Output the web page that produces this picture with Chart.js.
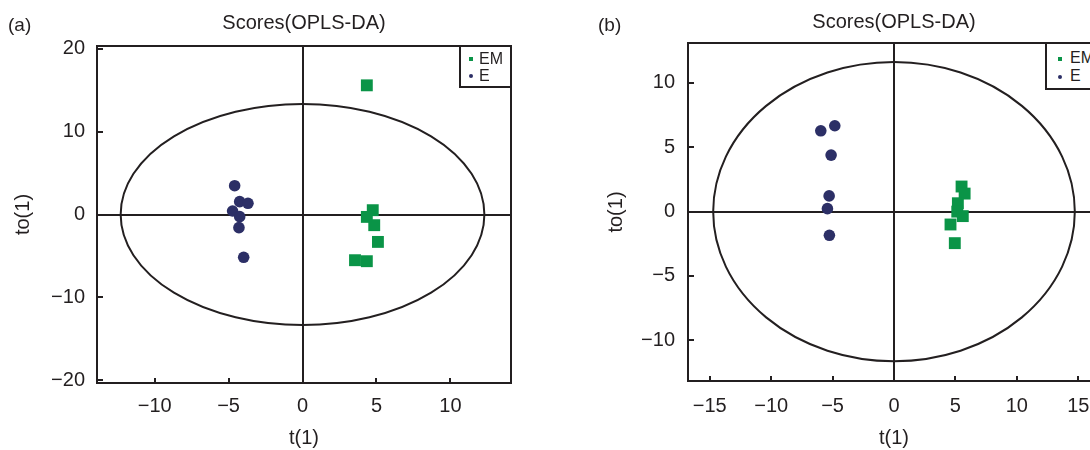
<!DOCTYPE html>
<html>
<head>
<meta charset="utf-8">
<script src="https://cdn.jsdelivr.net/npm/chart.js@4.4.1/dist/chart.umd.min.js"></script>
<style>
  html, body { margin: 0; padding: 0; background: #fff; width: 1090px; height: 450px; overflow: hidden; }
  body { position: relative; font-family: "Liberation Sans", Arial, sans-serif; color: #231f20; }
  .panel { position: absolute; top: 0; height: 450px; }
  .tag { position: absolute; top: 15px; font-size: 19px; line-height: 19px; }
  .legend { position: absolute; background: #fff; border: 2px solid #231f20; box-sizing: border-box; }
  .legend .item { position: absolute; font-size: 16px; line-height: 16px; white-space: nowrap; }
  .legend .mk { position: absolute; width: 4px; height: 4px; }
</style>
</head>
<body>

<canvas id="chartA" class="panel" width="545" height="450" style="left:0px"></canvas>
<canvas id="chartB" class="panel" width="600" height="450" style="left:590px"></canvas>

<div class="tag" style="left:8px">(a)</div>
<div class="tag" style="left:598px">(b)</div>

<div class="legend" style="left:459px; top:45px; width:53px; height:43px;">
  <div class="mk" style="left:8px; top:10px; background:#0a9447;"></div>
  <div class="item" style="left:18px; top:4px;">EM</div>
  <div class="mk" style="left:8px; top:27px; background:#2c2f66; border-radius:50%;"></div>
  <div class="item" style="left:18px; top:21px;">E</div>
</div>
<div class="legend" style="left:1045px; top:42px; width:80px; height:48px;">
  <div class="mk" style="left:11px; top:13px; background:#0a9447;"></div>
  <div class="item" style="left:23px; top:6px;">EM</div>
  <div class="mk" style="left:11px; top:31px; background:#2c2f66; border-radius:50%;"></div>
  <div class="item" style="left:23px; top:24px;">E</div>
</div>

<script>
// ---- Panel (a): OPLS-DA scores, predictive t(1) vs orthogonal to(1)
const emA_t  = [4.35, 4.75, 4.35, 4.85, 5.10, 3.55, 4.35];
const emA_to = [15.6, 0.52, -0.29, -1.29, -3.31, -5.52, -5.64];
const eA_t   = [-4.59, -4.25, -3.69, -4.73, -4.25, -4.30, -3.98];
const eA_to  = [3.48, 1.55, 1.35, 0.42, -0.26, -1.59, -5.17];
const xTicksA = [-10, -5, 0, 5, 10];
const yTicksA = [-20, -10, 0, 10, 20];
const xRangeA = [-13.9, 14.1];
const yRangeA = [-20.35, 20.35];
const hotellingA = [12.3, 13.35];   // T2 ellipse semi-axes (t, to)

// ---- Panel (b)
const emB_t  = [5.50, 5.75, 5.20, 5.15, 5.60, 4.60, 4.95];
const emB_to = [1.95, 1.40, 0.65, 0.00, -0.35, -1.00, -2.45];
const eB_t   = [-5.96, -4.82, -5.12, -5.28, -5.42, -5.26];
const eB_to  = [6.28, 6.67, 4.39, 1.22, 0.23, -1.84];
const xTicksB = [-15, -10, -5, 0, 5, 10, 15];
const yTicksB = [-10, -5, 0, 5, 10];
const xRangeB = [-16.77, 16.77];
const yRangeB = [-13.16, 13.1];
const hotellingB = [14.72, 11.62];

const INK = '#231f20';
const GREEN = '#0a9447';
const NAVY = '#2c2f66';
const FONT = '"Liberation Sans", Arial, sans-serif';

const zip = (xs, ys) => xs.map((x, i) => ({ x: x, y: ys[i] }));
const fmt = v => (v < 0 ? '\u2212' + Math.abs(v) : String(v));

// T2 ellipse, inward tick marks and the plot frame
const framePlugin = {
  id: 'frame',
  beforeDatasetsDraw(chart, args, opts) {
    const { x, y } = chart.scales;
    const cx = x.getPixelForValue(0), cy = y.getPixelForValue(0);
    const rx = x.getPixelForValue(opts.ellipse[0]) - cx;
    const ry = cy - y.getPixelForValue(opts.ellipse[1]);
    const ctx = chart.ctx;
    ctx.save();
    ctx.beginPath();
    ctx.ellipse(cx, cy, rx, ry, 0, 0, Math.PI * 2);
    ctx.lineWidth = 2;
    ctx.strokeStyle = INK;
    ctx.stroke();
    ctx.restore();
  },
  afterDraw(chart) {
    const { x, y } = chart.scales;
    const a = chart.chartArea;
    const ctx = chart.ctx;
    ctx.save();
    ctx.strokeStyle = INK;
    ctx.lineWidth = 2;
    ctx.beginPath();
    x.ticks.forEach(t => {
      const px = Math.round(x.getPixelForValue(t.value));
      ctx.moveTo(px, a.bottom);
      ctx.lineTo(px, a.bottom - 5);
    });
    y.ticks.forEach(t => {
      const py = Math.round(y.getPixelForValue(t.value));
      ctx.moveTo(a.left, py);
      ctx.lineTo(a.left + 6, py);
    });
    ctx.stroke();
    ctx.strokeRect(a.left, a.top, a.right - a.left, a.bottom - a.top);
    ctx.restore();
  }
};

function makeChart(id, cfg) {
  const axisBase = (ticks, range, fit, titleText, titlePad) => ({
    type: 'linear',
    min: range[0],
    max: range[1],
    afterBuildTicks: s => { s.ticks = ticks.map(v => ({ value: v })); },
    afterFit: fit,
    border: { display: false },
    grid: {
      drawTicks: false,
      lineWidth: 2,
      color: c => (c.tick && c.tick.value === 0 ? INK : 'rgba(0,0,0,0)')
    },
    title: {
      display: true,
      text: titleText,
      color: INK,
      font: { family: FONT, size: 20, lineHeight: 1 },
      padding: titlePad
    }
  });

  const xAxis = axisBase(cfg.xTicks, cfg.xRange, s => { s.height = cfg.xAxisH; }, 't(1)', { top: 0, bottom: 1.5 });
  xAxis.ticks = { color: INK, padding: cfg.xTickPad, font: { family: FONT, size: 20 }, callback: fmt, maxRotation: 0, autoSkip: false };
  const yAxis = axisBase(cfg.yTicks, cfg.yRange, s => { s.width = cfg.yAxisW; }, 'to(1)', { top: cfg.yTitlePad, bottom: 0 });
  yAxis.ticks = { color: INK, padding: cfg.yTickPad, font: { family: FONT, size: 20 }, callback: fmt, autoSkip: false };

  return new Chart(document.getElementById(id), {
    type: 'scatter',
    data: {
      datasets: [
        {
          label: 'EM',
          data: cfg.em,
          pointStyle: 'rect',
          pointRadius: 8.4,
          pointHoverRadius: 8.4,
          backgroundColor: GREEN,
          borderWidth: 0
        },
        {
          label: 'E',
          data: cfg.e,
          pointStyle: 'circle',
          pointRadius: 5.8,
          pointHoverRadius: 5.8,
          backgroundColor: NAVY,
          borderWidth: 0
        }
      ]
    },
    options: {
      responsive: false,
      animation: false,
      events: [],
      layout: { padding: { left: 0, right: cfg.padRight, top: 0, bottom: 0 } },
      scales: { x: xAxis, y: yAxis },
      plugins: {
        legend: { display: false },
        tooltip: { enabled: false },
        title: {
          display: true,
          text: 'Scores(OPLS-DA)',
          fullSize: false,
          color: INK,
          font: { family: FONT, size: 20, weight: 'normal', lineHeight: 1.2 },
          padding: { top: cfg.titleTop, bottom: cfg.titleBottom }
        },
        frame: { ellipse: cfg.ellipse }
      }
    },
    plugins: [framePlugin]
  });
}

makeChart('chartA', {
  em: zip(emA_t, emA_to),
  e: zip(eA_t, eA_to),
  xTicks: xTicksA, yTicks: yTicksA,
  xRange: xRangeA, yRange: yRangeA,
  ellipse: hotellingA,
  yAxisW: 97, xAxisH: 67, padRight: 34,
  titleTop: 11, titleBottom: 11,
  xTickPad: 11, yTickPad: 12, yTitlePad: 13
});

makeChart('chartB', {
  em: zip(emB_t, emB_to),
  e: zip(eB_t, eB_to),
  xTicks: xTicksB, yTicks: yTicksB,
  xRange: xRangeB, yRange: yRangeB,
  ellipse: hotellingB,
  yAxisW: 98, xAxisH: 69, padRight: 90,
  titleTop: 10, titleBottom: 9,
  xTickPad: 13, yTickPad: 13, yTitlePad: 16
});
</script>
</body>
</html>
